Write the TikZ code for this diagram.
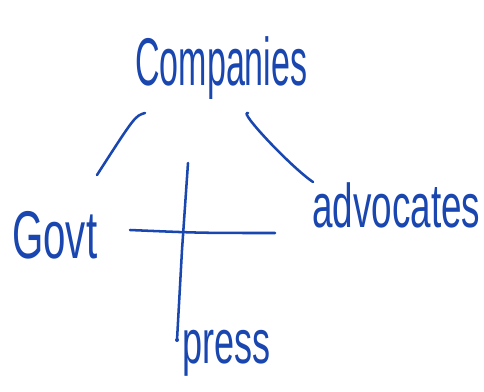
\documentclass[tikz,border=0pt]{standalone}
\usepackage{fontspec}
\setmainfont{Liberation Sans}
\definecolor{ink}{RGB}{25,70,175}
\tikzset{
  hand/.style={text=ink,inner sep=0pt,anchor=base west,font=\fontsize{20}{24}\selectfont},
  pen/.style={draw=ink,line width=1.8pt,line cap=round,line join=round}
}

\begin{document}
\begin{tikzpicture}[x=0.025cm,y=-0.025cm]
\useasboundingbox (0,0) rectangle (484,392);
\node[hand] (comp) at (135,86) {\scalebox{1.21}[2.4]{Companies}};
\node[hand] (govt) at (12,258) {\scalebox{1.43}[2.4]{Govt}};
\node[hand] (advo) at (312,228) {\scalebox{1.31}[2.2]{advocates}};
\node[hand] (press) at (182,363) {\scalebox{1.28}[2.2]{press}};
% links from the top
\draw[pen] ([shift={(10,27)}]comp.base west) .. controls ([shift={(0,30)}]comp.base west) .. ([shift={(85,-83)}]govt.base west);
\draw[pen] ([shift={(113,27)}]comp.base west) .. controls ([shift={(-75,-118)}]advo.base west) and ([shift={(-20,-60)}]advo.base west) .. ([shift={(1,-46)}]advo.base west);
% the cross
\draw[pen] (188,163) -- (182,250) -- (177,340);
\fill[ink] (177,340) circle[radius=2];
\draw[pen] (130,230) .. controls (200,233) .. (275,233);
\end{tikzpicture}
\end{document}
